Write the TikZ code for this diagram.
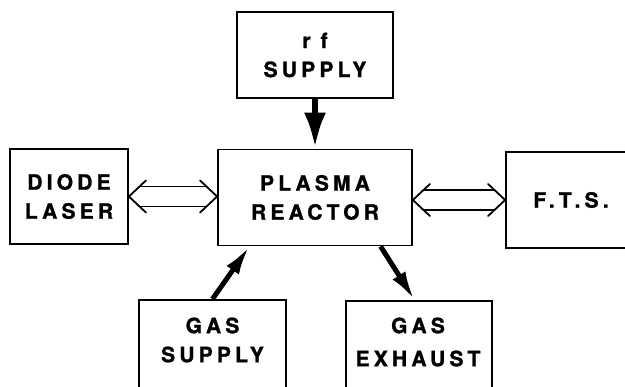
\documentclass[tikz,border=0pt]{standalone}
\usepackage{fontspec}
\setmainfont{TeX Gyre Heros}[LetterSpace=20,BoldFeatures={FakeBold=1.2}]
\usetikzlibrary{arrows.meta,calc}
\begin{document}
\begin{tikzpicture}[x=1pt,y=-1pt,
  box/.style={draw,line width=1.8pt,rectangle,inner sep=0pt},
  lbl/.style={align=center,font=\fontsize{21}{29}\selectfont\bfseries,inner sep=0pt},
  fat/.style={line width=5pt,-{Latex[length=29pt,width=15pt]}},
  hollow/.style={line width=1.8pt,line cap=round,line join=round}]
\clip (0,0) rectangle (625,387);
\fill[white] (0,0) rectangle (625,387);
% boxes
\node[box,lbl,minimum width=156pt,minimum height=86pt] (rf) at (315,55) {r f\\SUPPLY};
\node[box,lbl,minimum width=194pt,minimum height=96pt] (pr) at (315,197.5) {PLASMA\\REACTOR};
\node[box,lbl,minimum width=118pt,minimum height=95pt] (dl) at (69,196.5) {DIODE\\LASER};
\node[box,minimum width=130pt,minimum height=96pt] (fts) at (571,200) {};
\node[lbl] (ftst) at (571,200) {F.T.S.};
\node[box,minimum width=147pt,minimum height=110pt,anchor=north] (gs) at (212.5,299) {};
\node[lbl] (gst) at (212.5,340) {GAS\\SUPPLY};
\node[box,minimum width=146pt,minimum height=110pt,anchor=north] (ge) at (419,300) {};
\node[lbl,font=\fontsize{21}{33}\selectfont\bfseries] (get) at (418,342) {GAS\\EXHAUST};
% solid arrows
\draw[line width=6.5pt,-{Latex[length=36pt,width=22pt]}] (rf.south) -- (pr.north);
\coordinate (gsin) at ($(pr.south west)!0.165!(pr.south east)$);
\coordinate (geout) at ($(pr.south west)!0.835!(pr.south east)$);
\coordinate (gein) at ($(ge.north west)!0.47!(ge.north east)$);
\draw[fat] (gs.north) -- (gsin);
\draw[fat] (geout) -- (gein);
% hollow double arrows
\coordinate (a1) at (dl.east);
\coordinate (b1) at (pr.west |- dl.east);
\coordinate (a2) at (pr.east |- fts.west);
\coordinate (b2) at (fts.west);
\foreach \A/\B in {a1/b1,a2/b2}{
  \draw[hollow] ($(\A)+(17,-16)$) -- (\A) -- ($(\A)+(17,16)$);
  \draw[hollow] ($(\B)+(-17,-16)$) -- (\B) -- ($(\B)+(-17,16)$);
  \draw[hollow] ($(\A)+(10.6,-10)$) -- ($(\B)+(-10.6,-10)$);
  \draw[hollow] ($(\A)+(10.6,10)$) -- ($(\B)+(-10.6,10)$);
}
\end{tikzpicture}
\end{document}
